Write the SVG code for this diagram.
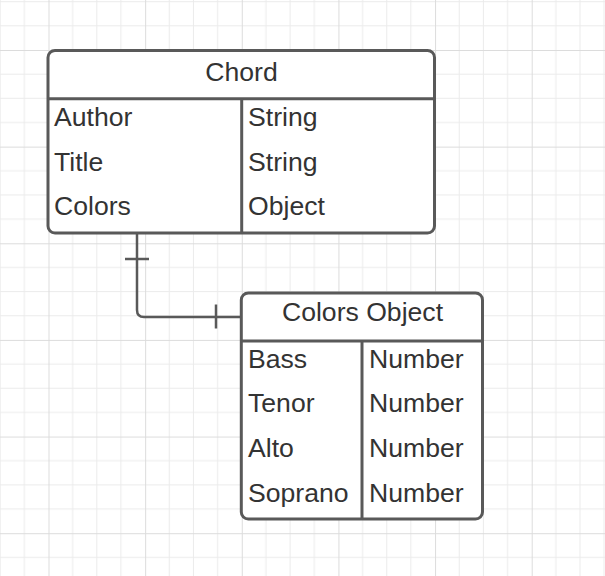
<svg xmlns="http://www.w3.org/2000/svg" width="605" height="576" viewBox="0 0 605 576">
  <style>
    .box { fill: #ffffff; stroke: #595959; stroke-width: 3; }
    .div { stroke: #595959; stroke-width: 3; fill: none; }
    .conn { stroke: #595959; stroke-width: 2.5; fill: none; }
    .t { font-family: "Liberation Sans", Arial, sans-serif; font-size: 26.6px; fill: #333333; }
    .h { text-anchor: middle; }
  </style>
  <defs>
    <pattern id="grid" patternUnits="userSpaceOnUse" x="48.5" y="50" width="96.64" height="96.64">
      <g stroke="#ebebeb" stroke-width="1">
        <line x1="24.16" y1="0" x2="24.16" y2="96.64"/>
        <line x1="48.32" y1="0" x2="48.32" y2="96.64"/>
        <line x1="72.48" y1="0" x2="72.48" y2="96.64"/>
        <line x1="0" y1="24.16" x2="96.64" y2="24.16"/>
        <line x1="0" y1="48.32" x2="96.64" y2="48.32"/>
        <line x1="0" y1="72.48" x2="96.64" y2="72.48"/>
      </g>
      <g stroke="#dcdcdc" stroke-width="1">
        <line x1="0.5" y1="0" x2="0.5" y2="96.64"/>
        <line x1="0" y1="0.5" x2="96.64" y2="0.5"/>
      </g>
    </pattern>
  </defs>
  <rect width="605" height="576" fill="#ffffff"/>
  <rect width="605" height="576" fill="url(#grid)"/>

  <g id="connectors">
    <path class="conn" d="M137,233 V310 Q137,317 144,317 H241"/>
    <line class="conn" x1="125" y1="259" x2="149" y2="259"/>
    <line class="conn" x1="216" y1="304.5" x2="216" y2="328.5"/>
  </g>

  <g id="chord">
    <rect class="box" x="48" y="50.5" width="386.5" height="182.5" rx="7" ry="7"/>
    <line class="div" x1="48" y1="98.7" x2="434.5" y2="98.7"/>
    <line class="div" x1="241.7" y1="98.7" x2="241.7" y2="233"/>
    <text class="t h" x="241.5" y="80.5">Chord</text>
    <text class="t" x="54" y="126">Author</text>
    <text class="t" x="54" y="170.5">Title</text>
    <text class="t" x="54" y="215">Colors</text>
    <text class="t" x="248" y="126">String</text>
    <text class="t" x="248" y="170.5">String</text>
    <text class="t" x="248" y="215">Object</text>
  </g>

  <g id="colors-object">
    <rect class="box" x="241.3" y="293" width="241.2" height="226" rx="7" ry="7"/>
    <line class="div" x1="241.3" y1="341" x2="482.5" y2="341"/>
    <line class="div" x1="362" y1="341" x2="362" y2="519"/>
    <text class="t h" x="362.5" y="321">Colors Object</text>
    <text class="t" x="248" y="368">Bass</text>
    <text class="t" x="248" y="412">Tenor</text>
    <text class="t" x="248" y="457">Alto</text>
    <text class="t" x="248" y="501.5">Soprano</text>
    <text class="t" x="369" y="368">Number</text>
    <text class="t" x="369" y="412">Number</text>
    <text class="t" x="369" y="457">Number</text>
    <text class="t" x="369" y="501.5">Number</text>
  </g>
</svg>
